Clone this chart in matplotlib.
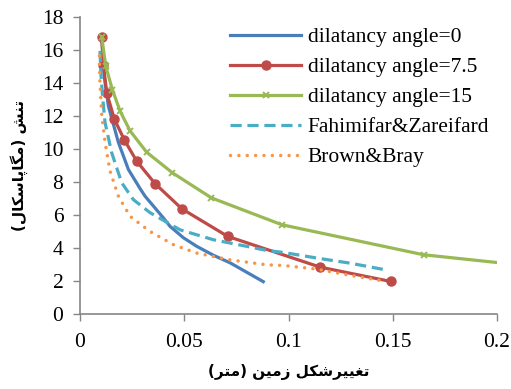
import matplotlib
matplotlib.use("Agg")
import matplotlib.pyplot as plt

# series (x = deformation in m, y = stress in MPa)
x_d0 = [0.0104, 0.0116, 0.0136, 0.0184, 0.0232, 0.0288, 0.0312, 0.040, 0.0432, 0.0496, 0.056, 0.064, 0.072, 0.0879]
y_d0 = [16.8, 14.4, 12.6, 10.4, 8.76, 7.6, 7.14, 5.82, 5.31, 4.62, 4.1, 3.56, 3.1, 1.96]

x_d75 = [0.0104, 0.0112, 0.0128, 0.0165, 0.0213, 0.0272, 0.036, 0.0489, 0.0709, 0.1152, 0.1491]
y_d75 = [16.8, 15.1, 13.4, 11.8, 10.54, 9.26, 7.9, 6.37, 4.7, 2.84, 1.97]

x_d15 = [0.0104, 0.0123, 0.0155, 0.0192, 0.024, 0.032, 0.0443, 0.063, 0.0968, 0.1648, 0.2]
y_d15 = [16.8, 15.04, 13.6, 12.3, 11.1, 9.8, 8.56, 7.04, 5.41, 3.59, 3.12]

x_fz = [0.0096, 0.0100, 0.0108, 0.012, 0.0152, 0.020, 0.0256, 0.0336, 0.048, 0.064, 0.080, 0.0896,
        0.0976, 0.1136, 0.1296, 0.1464]
y_fz = [15.95, 14.6, 13.2, 11.6, 9.77, 7.95, 6.93, 6.14, 5.1, 4.5, 4.1, 3.85, 3.73, 3.39, 3.08, 2.68]

x_bb = [0.0093, 0.0095, 0.0104, 0.012, 0.0144, 0.0184, 0.024, 0.0336, 0.0448, 0.056, 0.072, 0.0896,
        0.0976, 0.1136, 0.1296, 0.1472]
y_bb = [15.65, 14.2, 12.1, 10.4, 8.66, 7.14, 5.92, 5.0, 4.2, 3.69, 3.28, 2.98, 2.94, 2.72, 2.34, 1.97]

labels = ["dilatancy angle=0", "dilatancy angle=7.5", "dilatancy angle=15",
          "Fahimifar&Zareifard", "Brown&Bray"]
xticks = [0, 0.05, 0.1, 0.15, 0.2]
xtick_labels = ["0", "0.05", "0.1", "0.15", "0.2"]
yticks = list(range(0, 19, 2))
xlabel_fa = "تغییرشکل زمین (متر)"
ylabel_fa = "تنش (مگاپاسکال)"

# minimal Persian shaping (presentation forms + visual order) since matplotlib has no bidi
FORMS = {
    "ا": ("\uFE8D", "\uFE8E"), "ر": ("\uFEAD", "\uFEAE"), "ز": ("\uFEAF", "\uFEB0"),
    "پ": ("\uFB56", "\uFB57", "\uFB58", "\uFB59"), "ت": ("\uFE95", "\uFE96", "\uFE97", "\uFE98"),
    "س": ("\uFEB1", "\uFEB2", "\uFEB3", "\uFEB4"), "ش": ("\uFEB5", "\uFEB6", "\uFEB7", "\uFEB8"),
    "غ": ("\uFECD", "\uFECE", "\uFECF", "\uFED0"), "ک": ("\uFB8E", "\uFB8F", "\uFB90", "\uFB91"),
    "گ": ("\uFB92", "\uFB93", "\uFB94", "\uFB95"), "ل": ("\uFEDD", "\uFEDE", "\uFEDF", "\uFEE0"),
    "م": ("\uFEE1", "\uFEE2", "\uFEE3", "\uFEE4"), "ن": ("\uFEE5", "\uFEE6", "\uFEE7", "\uFEE8"),
    "ی": ("\uFBFC", "\uFBFD", "\uFBFE", "\uFBFF"),
}


def shape_fa(s):
    out = []
    for i, c in enumerate(s):
        if c not in FORMS:
            out.append({"(": ")", ")": "("}.get(c, c))
            continue
        f = FORMS[c]
        prev = s[i - 1] if i > 0 else ""
        nxt = s[i + 1] if i + 1 < len(s) else ""
        jp = prev in FORMS and len(FORMS[prev]) == 4
        jn = len(f) == 4 and nxt in FORMS
        if jp and jn:
            out.append(f[3])
        elif jp:
            out.append(f[1])
        elif jn:
            out.append(f[2])
        else:
            out.append(f[0])
    return "".join(reversed(out))


plt.rcParams["font.family"] = ["Liberation Serif", "DejaVu Sans"]

fig = plt.figure(figsize=(5.11, 3.89), dpi=100)
ax = fig.add_axes([0.1566, 0.1928, 0.816, 0.7635])

ax.plot(x_d0, y_d0, color="#4A7EBB", lw=2.3, label=labels[0])
ax.plot(x_d75, y_d75, color="#BE4B48", lw=2.3, marker="o", ms=6.5, label=labels[1])
ax.plot(x_d15, y_d15, color="#98B954", lw=2.3, marker="x", ms=5, mew=1.4,
        markevery=list(range(len(x_d15) - 1)), label=labels[2])
ax.plot(x_fz, y_fz, color="#4BACC6", lw=2.3, ls=(0, (3.5, 1.8)), label=labels[3])
ax.plot(x_bb, y_bb, color="#F79646", lw=2.5, ls=(0, (0.01, 2.4)), dash_capstyle="round",
        label=labels[4])

ax.set_xlim(0, 0.2)
ax.set_ylim(0, 18)
ax.set_xticks(xticks)
ax.set_xticklabels(xtick_labels)
ax.set_yticks(yticks)
ax.tick_params(direction="out", length=5, width=1, color="#868686", labelsize=15.5, pad=7)
ax.tick_params(axis="x", pad=9)
for s in ["top", "right"]:
    ax.spines[s].set_visible(False)
for s in ["left", "bottom"]:
    ax.spines[s].set_color("#868686")
    ax.spines[s].set_linewidth(1.2)

ax.set_xlabel(shape_fa(xlabel_fa), family="DejaVu Sans", fontweight="bold", fontsize=11, labelpad=8)
ax.set_ylabel(shape_fa(ylabel_fa), family="DejaVu Sans", fontweight="bold", fontsize=11, labelpad=10)

ax.legend(loc="upper left", bbox_to_anchor=(0.36, 0.965), frameon=False, fontsize=15.5,
          handlelength=3.3, handletextpad=0.3, labelspacing=0.46, borderpad=0, borderaxespad=0)

fig.savefig("out.png", dpi=100)
